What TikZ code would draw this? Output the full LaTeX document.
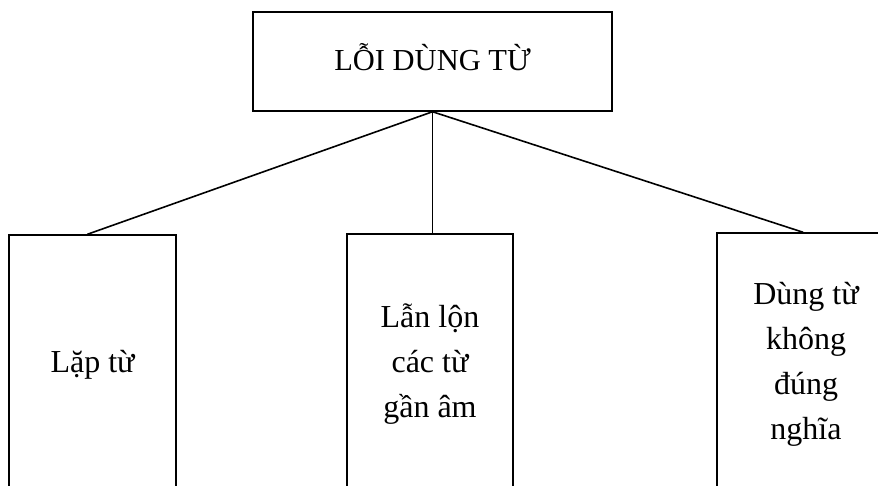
\documentclass[tikz,border=0pt]{standalone}
\usepackage{fontspec}
\setmainfont{Liberation Serif}
\begin{document}
\begin{tikzpicture}[x=1pt,y=1pt,
  box/.style={draw=black, line width=1.5pt, rectangle, inner sep=0pt, align=center},
  title/.style={font=\fontsize{30.5}{36}\selectfont, text depth=10pt},
  leaf/.style={font=\fontsize{32}{45}\selectfont},
  conn/.style={draw=black, line width=1.6pt}]
\useasboundingbox (0,0) rectangle (878,485);
\clip (0,0) rectangle (878,485);
\fill[white] (0,0) rectangle (878,485);
\node[box, title, minimum width=359pt, minimum height=99pt] (top) at (432.5,423.5) {LỖI DÙNG TỪ};
\node[box, leaf, minimum width=167pt, minimum height=260pt] (left) at (92.5,120) {Lặp từ};
\node[box, leaf, minimum width=166pt, minimum height=261pt] (mid) at (430,120.5) {Lẫn lộn\\các từ\\gần âm};
\node[box, leaf, minimum width=178pt, minimum height=262pt] (right) at (806,121) {Dùng từ\\không\\đúng\\nghĩa};
\draw[conn] (top.south) -- ([xshift=-5pt]left.north);
\draw[conn] (top.south) -- (top.south |- mid.north);
\draw[conn] (top.south) -- ([xshift=-3pt]right.north);
\end{tikzpicture}
\end{document}
